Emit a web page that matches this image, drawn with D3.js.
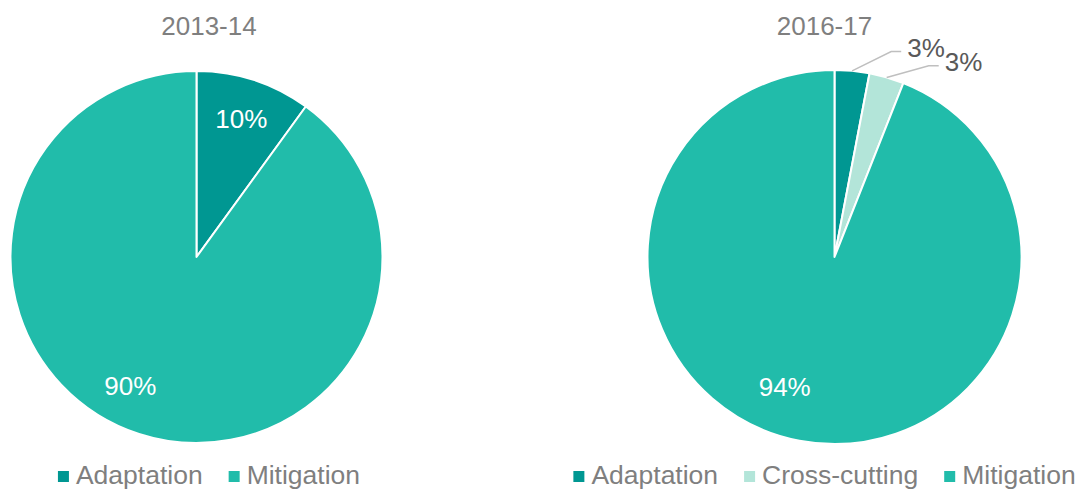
<!DOCTYPE html>
<html><head><meta charset="utf-8">
<script src="https://cdn.jsdelivr.net/npm/d3@7"></script>
<style>body{margin:0;background:#fff;}svg{display:block;font-family:"Liberation Sans",Arial,sans-serif;}</style>
</head><body>
<svg id="c" width="1083" height="489"></svg>
<script>
const categories = ["Adaptation", "Cross-cutting", "Mitigation"];
const titles = ["2013-14", "2016-17"];
const values2013 = [10, 0, 90];
const values2016 = [3, 3, 94];
const colors = ["#009792", "#B3E5D9", "#21BCAA"];

const W = 1083, H = 489;
const svg = d3.select("#c");
const color = d3.scaleOrdinal().domain(categories).range(colors);

const panels = [
  {title: titles[0], values: values2013, cx: 196.5, cy: 257, r: 186, x0: 0, x1: 418},
  {title: titles[1], values: values2016, cx: 834.5, cy: 257, r: 187, x0: 566, x1: 1083}
];

panels.forEach(p => {
  const data = categories.map((c, i) => ({cat: c, v: p.values[i]})).filter(d => d.v > 0);
  const pie = d3.pie().value(d => d.v).sort(null);
  const arcs = pie(data);
  const arc = d3.arc().innerRadius(0).outerRadius(p.r);
  const g = svg.append("g").attr("transform", `translate(${p.cx},${p.cy})`);
  g.selectAll("path").data(arcs).join("path")
    .attr("d", arc)
    .attr("fill", d => color(d.data.cat))
    .attr("stroke", "#fff").attr("stroke-width", 2).attr("stroke-linejoin", "round");

  const total = d3.sum(data, d => d.v);
  arcs.forEach(a => {
    const pct = Math.round(a.data.v / total * 100) + "%";
    const mid = (a.startAngle + a.endAngle) / 2;
    if (a.data.v / total >= 0.08) {
      const lr = 0.78 * p.r;
      let ang = mid;
      if (a.data.v / total > 0.5) ang = mid + 0.16;
      g.append("text").attr("x", lr * Math.sin(ang)).attr("y", -lr * Math.cos(ang) - (a.data.v / total > 0.92 ? 7 : 0))
        .attr("text-anchor", "middle").attr("dominant-baseline", "central")
        .attr("fill", "#fff").attr("font-size", 26).text(pct);
    } else {
      const sx = p.r * Math.sin(mid), sy = -p.r * Math.cos(mid);
      const ea = mid + 0.175, er = p.r * 1.14;
      const ex = er * Math.sin(ea), ey = -er * Math.cos(ea);
      g.append("polyline").attr("points", `${sx},${sy} ${ex},${ey} ${ex + 10},${ey}`)
        .attr("fill", "none").attr("stroke", "#BFBFBF").attr("stroke-width", 1.5);
      g.append("text").attr("x", ex + 16).attr("y", ey + 5)
        .attr("fill", "#595959").attr("font-size", 26).text(pct);
    }
  });

  const cxPanel = (p.x0 + p.x1) / 2;
  svg.append("text").attr("x", cxPanel).attr("y", 35).attr("text-anchor", "middle")
    .attr("fill", "#7F7F7F").attr("font-size", 26).text(p.title);

  // legend
  const lcats = categories.filter((c, i) => p.values[i] > 0);
  const lg = svg.append("g");
  let x = 0;
  lcats.forEach(c => {
    const it = lg.append("g");
    it.append("rect").attr("x", 0).attr("y", -13).attr("width", 11).attr("height", 11).attr("fill", color(c));
    const t = it.append("text").attr("x", 18).attr("y", 0).attr("fill", "#7F7F7F").attr("font-size", 26.5).text(c);
    const w = 18 + t.node().getComputedTextLength();
    it.attr("transform", `translate(${x},0)`);
    x += w + 26;
  });
  const totalW = x - 26;
  lg.attr("transform", `translate(${cxPanel - totalW / 2},484)`);
});
</script>
</body></html>
